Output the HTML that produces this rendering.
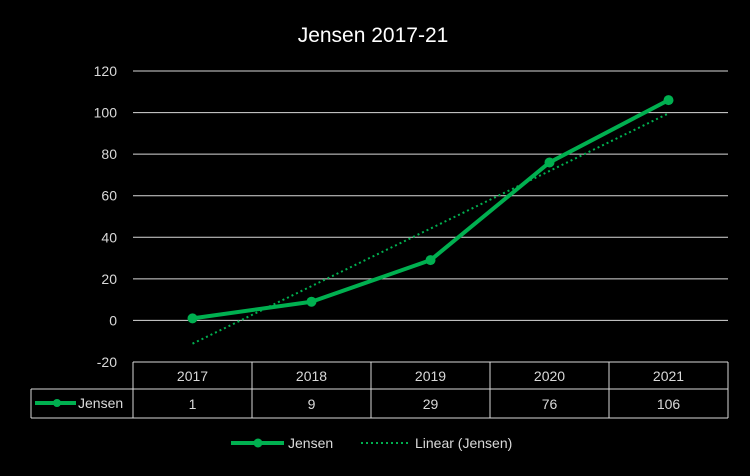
<!DOCTYPE html>
<html><head><meta charset="utf-8"><style>
body{margin:0;background:#000;}
svg text{font-family:"Liberation Sans",sans-serif;fill:#d9d9d9;}
</style></head><body>
<svg id="chart" width="750" height="471" xmlns="http://www.w3.org/2000/svg">
<rect width="750" height="471" fill="#000"/>
<text x="373" y="42" text-anchor="middle" font-size="21" style="fill:#fff">Jensen 2017-21</text>
<g id="grid"></g><g id="yticks"></g><g id="table"></g><g id="series"></g>
<g>
<line x1="231" y1="443" x2="284" y2="443" stroke="#00b050" stroke-width="4"/>
<circle cx="258" cy="443" r="4.5" fill="#00b050"/>
<text x="288" y="448" font-size="14">Jensen</text>
<line x1="361" y1="443" x2="410" y2="443" stroke="#00b050" stroke-width="2" stroke-dasharray="2,3"/>
<text x="415" y="448" font-size="14">Linear (Jensen)</text>
</g>
</svg>
<script>
const categories=["2017","2018","2019","2020","2021"];
const values=[1,9,29,76,106];
const yTicks=[-20,0,20,40,60,80,100,120];
const NS="http://www.w3.org/2000/svg";
const x0=133,x1=728,yMin=-20,yMax=120,pTop=71,pBot=362;
const cw=(x1-x0)/categories.length;
const xs=i=>x0+cw*(i+0.5);
const ys=v=>pBot-(v-yMin)/(yMax-yMin)*(pBot-pTop);
function mk(tag,attrs,parent){const e=document.createElementNS(NS,tag);for(const k in attrs)e.setAttribute(k,attrs[k]);document.getElementById(parent).appendChild(e);return e;}
yTicks.forEach(t=>{
 const l=mk('line',{x1:x0,x2:x1,y1:ys(t),y2:ys(t),stroke:'#d9d9d9','stroke-width':1},'grid');
 
 
 const tx=mk('text',{x:117,y:ys(t)+5,'text-anchor':'end','font-size':14},'yticks');
 tx.textContent=t;
 
 
});
// data table
const tTop=362,tMid=389,tBot=418,tLeft=31;
const s='#d9d9d9';
mk('line',{x1:x0,x2:x1,y1:tTop,y2:tTop,stroke:s},'table');
mk('line',{x1:tLeft,x2:x1,y1:tMid,y2:tMid,stroke:s},'table');
mk('line',{x1:tLeft,x2:x1,y1:tBot,y2:tBot,stroke:s},'table');
mk('line',{x1:tLeft,x2:tLeft,y1:tMid,y2:tBot,stroke:s},'table');
for(let i=0;i<=categories.length;i++){mk('line',{x1:x0+cw*i,x2:x0+cw*i,y1:tTop,y2:tBot,stroke:s},'table');}
categories.forEach((c,i)=>{
 const a=mk('text',{x:xs(i),y:381,'text-anchor':'middle','font-size':14},'table');a.textContent=c;
 
 
 const b=mk('text',{x:xs(i),y:409,'text-anchor':'middle','font-size':14},'table');b.textContent=values[i];
 
 
});
mk('line',{x1:35,x2:76,y1:403,y2:403,stroke:'#00b050','stroke-width':4},'table');
mk('circle',{cx:57,cy:403,r:4,fill:'#00b050'},'table');
const lk=mk('text',{x:78,y:408,'font-size':14},'table');lk.textContent='Jensen';
// trendline
const n=values.length;let mx=0,my=0;values.forEach((v,i)=>{mx+=i;my+=v;});mx/=n;my/=n;
let num=0,den=0;values.forEach((v,i)=>{num+=(i-mx)*(v-my);den+=(i-mx)*(i-mx);});
const sl=num/den,ic=my-sl*mx;
const tr=mk('line',{x1:xs(0),y1:ys(ic),x2:xs(n-1),y2:ys(ic+sl*(n-1)),stroke:'#00b050','stroke-width':2,'stroke-dasharray':'2,3'},'series');


const pl=mk('polyline',{points:values.map((v,i)=>xs(i)+','+ys(v)).join(' '),fill:'none',stroke:'#00b050','stroke-width':4,'stroke-linejoin':'round'},'series');


values.forEach((v,i)=>{
 const c=mk('circle',{cx:xs(i),cy:ys(v),r:5,fill:'#00b050'},'series');
 
 
});
</script>
</body></html>
